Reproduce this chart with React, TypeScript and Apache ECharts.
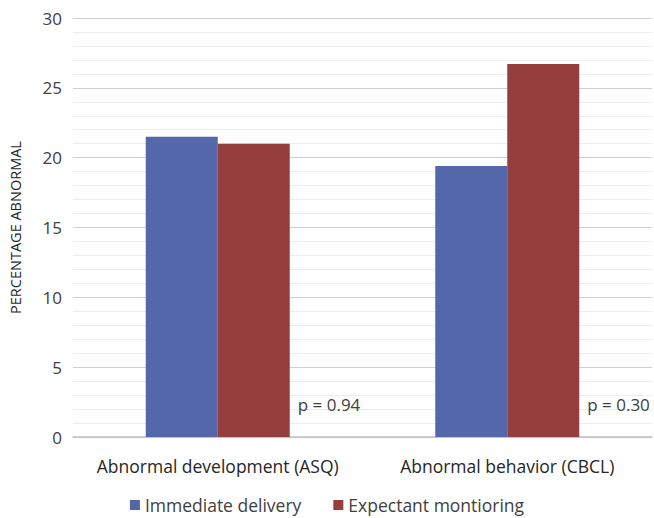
import React, { useEffect, useRef } from "react";
import * as echarts from "echarts";

const categories = ["Abnormal development (ASQ)", "Abnormal behavior (CBCL)"];
const immediateDelivery = [21.5, 19.4];
const expectantMonitoring = [21.0, 26.7];
const pValues = ["p = 0.94", "p = 0.30"];
const seriesNames = ["Immediate delivery", "Expectant montioring"];
const yTicks = { min: 0, max: 30, interval: 5 };

export default function App() {
  const ref = useRef<HTMLDivElement>(null);
  useEffect(() => {
    document.body.style.margin = "0";
    const chart = echarts.init(ref.current!, null, { renderer: "svg" });
    const font = "'Open Sans', sans-serif";
    chart.setOption({
      animation: false,
      backgroundColor: "#ffffff",
      grid: { left: 73, right: 2, top: 18, bottom: 81 },
      legend: {
        bottom: -1,
        left: "center",
        itemWidth: 10,
        itemHeight: 10,
        itemGap: 32,
        icon: "rect",
        textStyle: { fontFamily: font, fontSize: 17.5, color: "#404040" },
        data: seriesNames,
      },
      xAxis: {
        type: "category",
        data: categories,
        axisLine: { lineStyle: { color: "#c0c0c0", width: 1.5 } },
        axisTick: { show: false },
        axisLabel: {
          interval: 0,
          fontFamily: font,
          fontSize: 17.5,
          color: "#262626",
          margin: 20,
        },
      },
      yAxis: {
        type: "value",
        min: yTicks.min,
        max: yTicks.max,
        interval: yTicks.interval,
        name: "PERCENTAGE ABNORMAL",
        nameLocation: "middle",
        nameGap: 50,
        nameTextStyle: { fontFamily: font, fontSize: 14.5, color: "#262626" },
        axisLine: { show: false },
        axisTick: { show: false },
        axisLabel: { fontFamily: font, fontSize: 17, color: "#404040", margin: 11 },
        splitLine: { lineStyle: { color: "#cfcfcf", width: 1.2 } },
        minorTick: { show: false, splitNumber: 5 },
        minorSplitLine: { show: true, lineStyle: { color: "#ececec", width: 1 } },
      },
      series: [
        {
          name: seriesNames[0],
          type: "bar",
          data: immediateDelivery,
          barWidth: 72,
          barGap: "0%",
          itemStyle: { color: "#5567ab" },
        },
        {
          name: seriesNames[1],
          type: "bar",
          data: expectantMonitoring,
          barWidth: 72,
          barGap: "0%",
          itemStyle: { color: "#943f3e" },
          label: {
            show: true,
            position: ["100%", "100%"],
            offset: [8, -33],
            align: "left",
            verticalAlign: "middle",
            fontFamily: font,
            fontSize: 17,
            color: "#404040",
            formatter: (p: any) => pValues[p.dataIndex],
          },
        },
      ],
    });
    return () => chart.dispose();
  }, []);
  return (
    <div
      ref={ref}
      style={{ position: "fixed", left: 0, top: 0, width: 654, height: 518 }}
    />
  );
}
